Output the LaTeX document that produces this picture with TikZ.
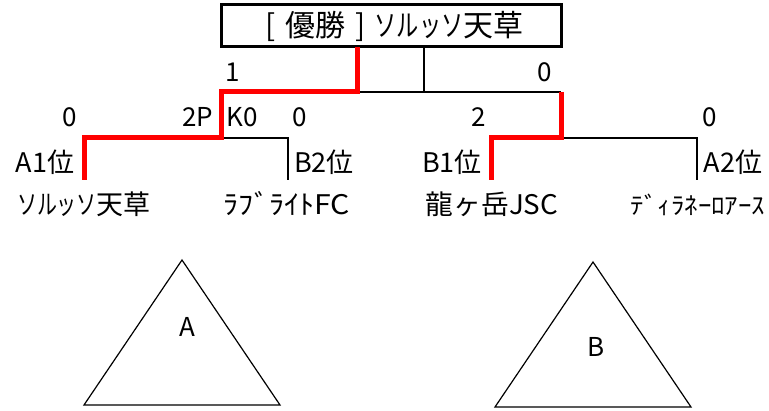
\documentclass[tikz,border=0pt]{standalone}
\usepackage{graphicx}
\usepackage{fontspec}
\setmainfont{Noto Sans CJK JP}
\newcommand{\narrowkana}[1]{\scalebox{0.74}[1]{#1}}
\begin{document}
\begin{tikzpicture}[x=1pt,y=-1pt,
  win/.style={draw=red, line width=5pt},
  ln/.style={draw=black, line width=2.5pt},
  num/.style={font=\fontsize{26}{26}\selectfont, inner sep=0pt, anchor=center},
  seed/.style={font=\fontsize{27}{27}\selectfont, inner sep=0pt, anchor=center},
  team/.style={font=\fontsize{27}{27}\selectfont, inner sep=0pt, anchor=center},
  tri/.style={draw=black, line width=1.2pt}]
\useasboundingbox (0,0) rectangle (769,411);
% champion box
\node[draw, line width=3pt, minimum width=340pt, minimum height=42pt, inner sep=0pt,
      font=\fontsize{30}{30}\selectfont] (champ) at (391.5,26) {\hspace*{6pt}[\,\,優勝\,\,]\hspace{9pt}\narrowkana{ソルッソ}天草};
% junction coordinates
\coordinate (ctop) at (424,47);
\coordinate (cf) at (424,92);
\coordinate (rtop) at (357,47);
\coordinate (rf) at (357,92);
\coordinate (sl) at (221,92);
\coordinate (sr) at (561,92);
\coordinate (slb) at (221,138);
\coordinate (srb) at (561,138);
\coordinate (q1) at (84,138);
\coordinate (q2) at (288,138);
\coordinate (q3) at (491,138);
\coordinate (q4) at (697,138);
\coordinate (e1) at (84,180);
\coordinate (e2) at (288,180);
\coordinate (e3) at (491,180);
\coordinate (e4) at (697,180);
% black lines
\draw[ln] (ctop) -- (cf);
\draw[ln] (rf) -- (sr);
\draw[ln] (slb) -- (q2) -- (e2);
\draw[ln] (srb) -- (q4) -- (e4);
% red winning path
\draw[win] (rtop) -- (rf) -- (sl) -- (slb) -- (q1) -- (e1);
\draw[win] (sr) -- (srb) -- (q3) -- (e3);
% scores
\node[num] (s1) at (233,72) {1};
\node[num] (s2) at (545,72) {0};
\node[num] (s3) at (70,117) {0};
\node[num] (s4) at (198,117) {2P};
\node[num] (s5) at (242,117) {K0};
\node[num] (s6) at (300,117) {0};
\node[num] (s7) at (479,117) {2};
\node[num] (s8) at (710,117) {0};
% seeds
\node[seed] (a1) at (45,162) {A1位};
\node[seed] (b2) at (324,162) {B2位};
\node[seed] (b1) at (452,162) {B1位};
\node[seed] (a2) at (733,162) {A2位};
% teams
\node[team] (t1) at (84,204) {\narrowkana{ソルッソ}天草};
\node[team, xscale=1.12] (t2) at (287,204) {ﾗﾌﾞﾗｲﾄFC};
\node[team, xscale=1.03] (t3) at (492,204) {龍ヶ岳JSC};
\node[team, font=\fontsize{24}{24}\selectfont, xscale=1.12] (t4) at (698,205) {ﾃﾞｨﾗﾈｰﾛｱｰｽ};
% groups
\coordinate (pa1) at (182,260);
\coordinate (pa2) at (84,405);
\coordinate (pa3) at (280,405);
\draw[tri] (pa1) -- (pa2) -- (pa3) -- cycle;
\node[font=\fontsize{26}{26}\selectfont, inner sep=0pt] (ga) at (187,327) {A};
\coordinate (pb1) at (593,262);
\coordinate (pb2) at (495,407);
\coordinate (pb3) at (691,407);
\draw[tri] (pb1) -- (pb2) -- (pb3) -- cycle;
\node[font=\fontsize{26}{26}\selectfont, inner sep=0pt] (gb) at (596,347) {B};
\end{tikzpicture}
\end{document}
